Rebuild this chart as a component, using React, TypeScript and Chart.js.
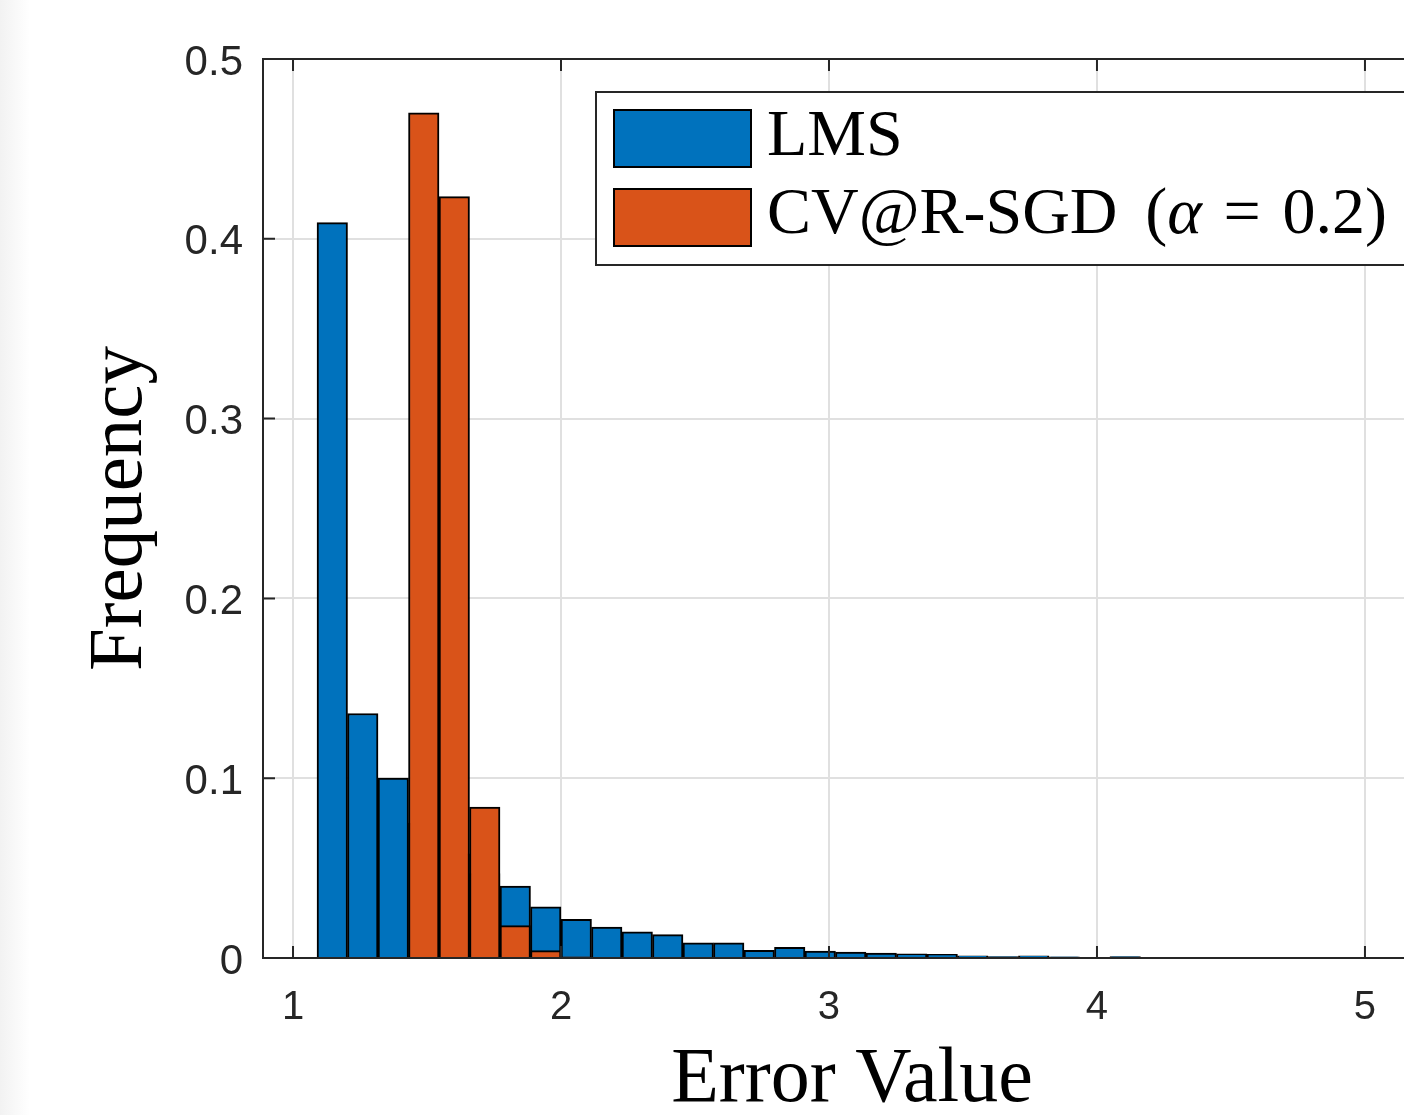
import React, { useEffect, useRef } from "react";
import { Chart, registerables } from "chart.js";

Chart.register(...registerables);

// Histogram bin centres (Error Value)
const binCenters = [
  1.1465, 1.2603, 1.3741, 1.4879, 1.6017, 1.7155, 1.8293, 1.9431, 2.0569, 2.1707,
  2.2845, 2.3983, 2.5121, 2.6259, 2.7397, 2.8535, 2.9673, 3.0811, 3.1949, 3.3087,
  3.4225, 3.5363, 3.6501, 3.7639, 3.8777, 3.9915, 4.1053, 4.2191, 4.3329, 4.4467,
  4.5605, 4.6743, 4.7881, 4.9019, 5.0157,
];

// LMS frequencies
const lmsFreq = [
  0.409, 0.136, 0.1, 0.075, 0.058, 0.047, 0.04, 0.0285, 0.0215, 0.0172,
  0.0146, 0.013, 0.0084, 0.0084, 0.0043, 0.006, 0.0038, 0.0033, 0.0027, 0.0023,
  0.002, 0.0012, 0.0008, 0.0012, 0.0007, 0.0004, 0.0008, 0.0003, 0.0002, 0.0002,
  0.0001, 0.0001, 0.0001, 0.0001, 0.0001,
];

// CV@R-SGD frequencies
const cvarFreq = [
  0, 0, 0, 0.47, 0.4235, 0.0839, 0.018, 0.0041, 0.0006, 0,
  0, 0, 0, 0, 0, 0, 0, 0, 0, 0,
  0, 0, 0, 0, 0, 0, 0, 0, 0, 0,
  0, 0, 0, 0, 0,
];

const xTicks = [1, 2, 3, 4, 5];
const yTicks = [0, 0.1, 0.2, 0.3, 0.4, 0.5];
const yTickLabels = ["0", "0.1", "0.2", "0.3", "0.4", "0.5"];
const seriesNames = ["LMS", "CV@R-SGD"];
const xTitle = "Error Value";
const yTitle = "Frequency";

const BLUE = "#0072BD";
const ORANGE = "#D95319";
const AXIS = "#262626";
const SERIF = "'Liberation Serif', 'DejaVu Serif', serif";
const SANS = "'Liberation Sans', Arial, sans-serif";

const decorPlugin = {
  id: "decor",
  afterDraw(chart: any) {
    const ctx = chart.ctx as CanvasRenderingContext2D;
    const { left, right, top, bottom } = chart.chartArea;
    const xs = chart.scales.x;
    const ys = chart.scales.y;
    ctx.save();

    // box
    ctx.strokeStyle = AXIS;
    ctx.lineWidth = 2;
    ctx.strokeRect(left, top, right - left, bottom - top);

    // inward ticks
    const tl = 12;
    ctx.beginPath();
    for (const v of xTicks) {
      const px = xs.getPixelForValue(v);
      ctx.moveTo(px, bottom);
      ctx.lineTo(px, bottom - tl);
      ctx.moveTo(px, top);
      ctx.lineTo(px, top + tl);
    }
    for (const v of yTicks) {
      const py = ys.getPixelForValue(v);
      ctx.moveTo(left, py);
      ctx.lineTo(left + tl, py);
      ctx.moveTo(right, py);
      ctx.lineTo(right - tl, py);
    }
    ctx.stroke();

    // y tick labels
    ctx.fillStyle = AXIS;
    ctx.font = `42px ${SANS}`;
    ctx.textAlign = "right";
    ctx.textBaseline = "middle";
    yTicks.forEach((v, i) => {
      ctx.fillText(yTickLabels[i], left - 20, ys.getPixelForValue(v) + 4);
    });

    // axis titles
    ctx.fillStyle = "#000";
    ctx.font = `78px ${SERIF}`;
    ctx.textAlign = "center";
    ctx.textBaseline = "alphabetic";
    ctx.fillText(xTitle, 852, 1101);
    ctx.save();
    ctx.translate(141, (top + bottom) / 2);
    ctx.rotate(-Math.PI / 2);
    ctx.font = `77px ${SERIF}`;
    ctx.fillText(yTitle, 0, 0);
    ctx.restore();

    // legend
    const lx = 596, ly = 92, lb = 265;
    ctx.fillStyle = "#fff";
    ctx.fillRect(lx, ly, chart.width - lx + 10, lb - ly);
    ctx.strokeStyle = AXIS;
    ctx.lineWidth = 2;
    ctx.strokeRect(lx, ly, chart.width - lx + 10, lb - ly);

    const sw = [
      { y: 110, color: BLUE },
      { y: 189, color: ORANGE },
    ];
    for (const s of sw) {
      ctx.fillStyle = s.color;
      ctx.fillRect(614, s.y, 137, 57);
      ctx.strokeStyle = "#000";
      ctx.lineWidth = 2;
      ctx.strokeRect(614, s.y, 137, 57);
    }

    ctx.fillStyle = "#000";
    ctx.textAlign = "left";
    ctx.textBaseline = "alphabetic";
    const fs = 66;
    ctx.font = `${fs}px ${SERIF}`;
    ctx.fillText(seriesNames[0], 767, 155);

    let x = 767;
    const by = 233;
    const draw = (t: string, italic = false) => {
      ctx.font = `${italic ? "italic " : ""}${fs}px ${SERIF}`;
      ctx.fillText(t, x, by);
      x += ctx.measureText(t).width;
    };
    draw(seriesNames[1]);
    x += fs * 0.42;
    draw("(");
    draw("\u03B1", true);
    x += fs * 0.33;
    draw("=");
    x += fs * 0.33;
    draw("0.2");
    draw(")");

    ctx.restore();
  },
};

export default function App() {
  const ref = useRef<HTMLCanvasElement | null>(null);

  useEffect(() => {
    if (!ref.current) return;
    const chart = new Chart(ref.current, {
      type: "bar",
      data: {
        datasets: [
          {
            label: seriesNames[0],
            data: binCenters.map((c, i) => ({ x: c, y: lmsFreq[i] })),
            backgroundColor: BLUE,
            borderColor: "#000",
            borderWidth: 2,
            barPercentage: 1,
            categoryPercentage: 1,
            grouped: false,
            order: 1,
          },
          {
            label: seriesNames[1],
            data: binCenters.map((c, i) => ({ x: c, y: cvarFreq[i] })),
            backgroundColor: ORANGE,
            borderColor: "#000",
            borderWidth: 2,
            barPercentage: 1,
            categoryPercentage: 1,
            grouped: false,
            order: 0,
          },
        ],
      },
      options: {
        responsive: false,
        animation: false,
        devicePixelRatio: 1,
        layout: { padding: { left: 0, top: 59, right: 20, bottom: 0 } },
        plugins: {
          legend: { display: false },
          tooltip: { enabled: false },
        },
        scales: {
          x: {
            type: "linear",
            min: 0.888,
            max: 5.28,
            offset: false,
            afterFit: (s: any) => {
              s.height = 157;
            },
            afterBuildTicks: (s: any) => {
              s.ticks = xTicks.map((v) => ({ value: v }));
            },
            ticks: {
              padding: 26,
              color: AXIS,
              font: { family: SANS, size: 40 },
              callback: (v: any) => String(v),
            },
            grid: { color: "#e0e0e0", lineWidth: 2, drawTicks: false, offset: false },
            border: { display: false },
          },
          y: {
            type: "linear",
            min: 0,
            max: 0.5,
            afterFit: (s: any) => {
              s.width = 263;
            },
            afterBuildTicks: (s: any) => {
              s.ticks = yTicks.map((v) => ({ value: v }));
            },
            ticks: { display: false },
            grid: { color: "#e0e0e0", lineWidth: 2, drawTicks: false },
            border: { display: false },
          },
        },
      },
      plugins: [decorPlugin],
    });
    return () => chart.destroy();
  }, []);

  return (
    <div
      style={{
        position: "fixed",
        left: 0,
        top: 0,
        width: "100vw",
        height: "100vh",
        overflow: "hidden",
        background: "#fff",
      }}
    >
      <div
        style={{
          position: "absolute",
          left: 0,
          top: 0,
          width: 30,
          height: "100%",
          background: "linear-gradient(to right, #f2f2f2, #ffffff)",
        }}
      />
      <canvas
        ref={ref}
        width={1460}
        height={1115}
        style={{ position: "absolute", left: 0, top: 0 }}
      />
    </div>
  );
}
